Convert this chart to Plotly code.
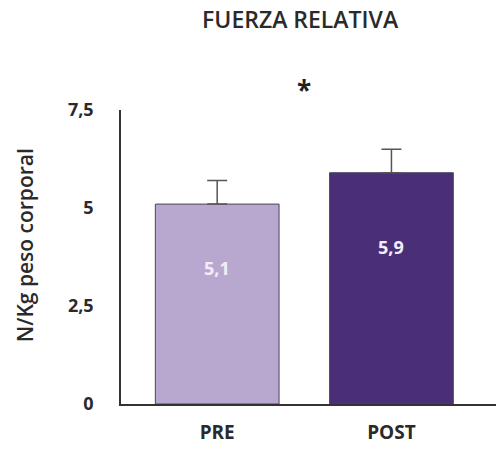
import plotly.graph_objects as go

categories = ["PRE", "POST"]
values = [5.1, 5.9]
errors = [0.6, 0.6]
value_labels = ["5,1", "5,9"]
bar_colors = ["#b8a8d0", "#4a2f78"]
y_tickvals = [0, 2.5, 5, 7.5]
y_ticktext = ["0", "2,5", "5", "7,5"]

FONT = "Open Sans"
TEXT = "#2a2a2a"

fig = go.Figure()
fig.add_trace(go.Bar(
    x=categories,
    y=values,
    width=0.71,
    marker=dict(color=bar_colors, line=dict(color="#4a4458", width=1)),
    error_y=dict(type="data", symmetric=False, array=errors,
                 arrayminus=[0] * len(errors),
                 color="#555555", thickness=1.5, width=10),
    showlegend=False,
    hoverinfo="skip",
))

# value labels inside bars
for cat, v, lab in zip(categories, values, value_labels):
    fig.add_annotation(x=cat, y=v * 0.68, text=lab, showarrow=False,
                       font=dict(family=FONT, size=18, color="#f2eef8", weight=700))

# significance marker above the pair of bars
fig.add_annotation(x=0.5, y=1.135, xref="x", yref="paper",
                   text="*", showarrow=False,
                   font=dict(family=FONT, size=26, color="#222222", weight=700))

# vertical axis caption
fig.add_annotation(x=-0.256, y=0.54, xref="paper", yref="paper",
                   xanchor="center", yanchor="middle",
                   text="N/Kg peso corporal", textangle=-90, showarrow=False,
                   font=dict(family=FONT, size=21, color=TEXT, weight=600))

fig.update_layout(
    width=496, height=450,
    margin=dict(l=121, r=0, t=110, b=46),
    plot_bgcolor="white", paper_bgcolor="white",
    title=dict(text="FUERZA RELATIVA", x=0.605, xanchor="center", y=0.955, yanchor="middle",
               font=dict(family=FONT, size=23, color=TEXT, weight=600)),
)
fig.update_xaxes(
    range=[-0.552, 1.6], showline=True, linecolor="#333333", linewidth=1.5,
    ticks="", showgrid=False, zeroline=False, ticklabelstandoff=10,
    tickfont=dict(family=FONT, size=19, color=TEXT, weight=700),
)
fig.update_yaxes(
    range=[0, 7.5], showline=True, linecolor="#333333", linewidth=1.5,
    tickvals=y_tickvals, ticktext=y_ticktext, ticks="",
    ticklabelstandoff=22, showgrid=False, zeroline=False,
    tickfont=dict(family=FONT, size=18, color=TEXT, weight=700),
)

fig.write_html("out.html")
